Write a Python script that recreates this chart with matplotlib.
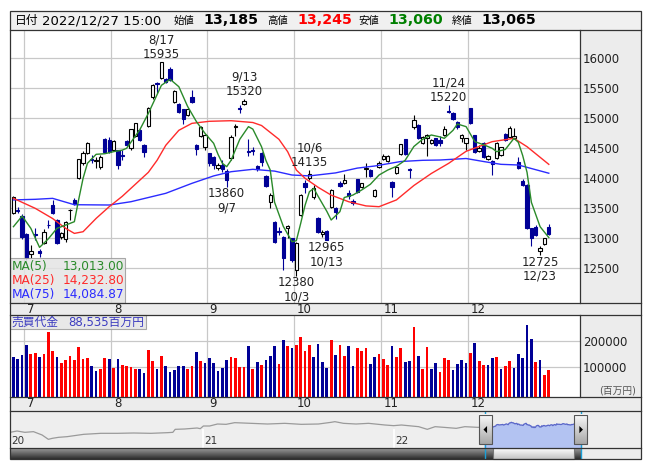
import numpy as np
import matplotlib
matplotlib.use('Agg')
import matplotlib.pyplot as plt
from matplotlib.patches import Rectangle, Polygon
from matplotlib.colors import LinearSegmentedColormap

plt.rcParams['font.family'] = ['DejaVu Sans', 'Noto Sans CJK JP']

# ---------------- data ----------------
month_labels = ['7', '8', '9', '10', '11', '12']
month_starts = [3, 23, 45, 65, 85, 105]   # first trading day index of each month

opens = [13416, 13480, 13371, 13071, 12738, 13080, 12790, 12927, 13230, 13555,
         13305, 13016, 12983, 13465, 13638, 14000, 14249, 14427, 14320, 14290,
         14194, 14649, 14638, 14472, 14472, 14380, 14622, 14500, 14705, 14805,
         14555, 14877, 15350, 15590, 15666, 15650, 15816, 15266, 15238, 15150,
         15055, 15360, 14555, 14705, 14527, 14416, 14360, 14177, 14230, 14127,
         14333, 14860, 15170, 15238, 14450, 14465, 14205, 14416, 14038, 13610,
         13277, 13115, 13027, 13180, 13000, 12471, 13388, 13916, 14000, 13682,
         13332, 13071, 13121, 13527, 13499, 13927, 13916, 13760, 13627, 13982,
         13860, 14160, 14138, 13705, 14183, 14316, 14288, 13944, 14083, 14405,
         14655, 14140, 14850, 14888, 14594, 14666, 14594, 14666, 14640, 14722,
         15120, 15083, 14944, 14666, 14583, 15166, 14722, 14460, 14583, 14316,
         14288, 14333, 14388, 14738, 14683, 14680, 14266, 13960, 13888, 13166,
         13194, 12788, 12905, 13185]
highs = [13705, 13530, 13400, 13090, 12890, 13170, 12830, 13160, 13300, 13640,
         13320, 13110, 13290, 13490, 13680, 14330, 14460, 14600, 14390, 14350,
         14390, 14680, 14690, 14640, 14480, 14470, 14640, 14830, 14930, 14820,
         14570, 15190, 15580, 15610, 15935, 15670, 15850, 15470, 15250, 15160,
         15170, 15470, 14580, 14870, 14740, 14430, 14380, 14260, 14300, 14160,
         14720, 14900, 15220, 15320, 14650, 14530, 14230, 14440, 14060, 13750,
         13290, 13190, 13040, 13220, 13010, 12940, 13740, 13970, 14135, 13890,
         13350, 13140, 13140, 13830, 13520, 13950, 14080, 13800, 13650, 13990,
         13930, 14250, 14150, 13830, 14290, 14400, 14390, 13960, 14210, 14580,
         14660, 14170, 15050, 14900, 14700, 14740, 14660, 14680, 14700, 14870,
         15220, 15100, 14960, 14740, 14680, 15170, 14730, 14560, 14600, 14390,
         14300, 14600, 14530, 14760, 14880, 14844, 14350, 13985, 13900, 13180,
         13220, 12870, 13010, 13245]
lows = [13400, 13420, 12990, 12640, 12670, 12970, 12690, 12900, 13180, 13400,
        12910, 12990, 12940, 13305, 13550, 13990, 14230, 14410, 14250, 14180,
        14150, 14430, 14420, 14450, 14150, 14300, 14540, 14480, 14690, 14620,
        14360, 14860, 15330, 15430, 15650, 15590, 15620, 15250, 15090, 14900,
        15040, 15260, 14390, 14690, 14480, 14210, 14150, 14140, 14110, 13860,
        14310, 14700, 15090, 15230, 14380, 14390, 14130, 14200, 13850, 13510,
        12930, 13055, 12470, 13000, 12600, 12380, 13370, 13750, 13980, 13660,
        13090, 13030, 12965, 13510, 13330, 13850, 13900, 13660, 13560, 13760,
        13840, 14030, 14020, 13690, 14170, 14300, 14270, 13694, 14070, 14390,
        14390, 14010, 14830, 14650, 14580, 14380, 14580, 14540, 14540, 14710,
        15090, 14970, 14830, 14610, 14480, 14910, 14420, 14440, 14340, 14300,
        14060, 14320, 14370, 14620, 14670, 14660, 14150, 13870, 13150, 12871,
        13040, 12725, 12890, 13060]
closes = [13682, 13460, 13016, 12680, 12794, 13060, 12750, 13110, 13215, 13416,
          12927, 13093, 13277, 13475, 13571, 14316, 14427, 14583, 14310, 14300,
          14360, 14444, 14444, 14627, 14221, 14370, 14555, 14816, 14916, 14638,
          14444, 15177, 15555, 15575, 15933, 15610, 15638, 15455, 15110, 14983,
          15150, 15277, 14488, 14850, 14722, 14250, 14222, 14222, 14150, 13972,
          14694, 14880, 15160, 15288, 14440, 14455, 14150, 14277, 13871, 13721,
          12944, 13105, 12666, 13210, 12638, 12927, 13721, 13849, 14072, 13832,
          13110, 13110, 12980, 13805, 13443, 13871, 13971, 13700, 13583, 13777,
          13916, 14170, 14038, 13805, 14261, 14372, 14372, 13860, 14194, 14566,
          14405, 14135, 14972, 14666, 14683, 14722, 14638, 14555, 14590, 14816,
          15105, 14983, 14850, 14722, 14666, 14927, 14444, 14500, 14361, 14372,
          14238, 14583, 14516, 14638, 14844, 14700, 14166, 13888, 13166, 13000,
          13055, 12833, 13000, 13065]

# 売買代金 (百万円)
vols = [136400, 128600, 145500, 184400, 149400, 152000, 136400, 149400, 233700, 161100,
        136400, 114400, 126000, 141600, 126000, 176600, 129900, 133800, 102700, 83200,
        91000, 133800, 129900, 94900, 129900, 106600, 102700, 98800, 91000, 91000,
        75500, 165000, 122100, 91000, 141600, 102700, 79300, 87100, 102700, 102800,
        91100, 102800, 157200, 122200, 114400, 133900, 114400, 83300, 95000, 126100,
        137800, 133900, 98900, 98900, 180600, 91100, 118300, 106700, 126100, 141700,
        180600, 110500, 203900, 180600, 172800, 184500, 215600, 161100, 184500, 137800,
        188400, 118300, 95000, 203900, 145500, 184400, 141600, 180500, 102700, 172700,
        161100, 172700, 110500, 137700, 149400, 129900, 106600, 180500, 137700, 172700,
        118300, 122100, 254400, 141600, 91000, 176600, 91000, 114400, 79300, 133800,
        126000, 87100, 110500, 126000, 114400, 153300, 192200, 122100, 106600, 106600,
        133800, 137700, 91000, 102700, 122100, 94900, 149400, 133800, 262200, 207800,
        118300, 126000, 67700, 88535]
vol_colors = ('bbbbrrbrrr' 'brrrrrrrbb' 'rrbrbrrrrb' 'brrbrbbbbb' 'rrbrbbbbbb'
              'rrrrbrbrbb' 'brbrbrrrrb' 'bbbrbrrbbr' 'rrbbrrrbrr' 'bbrbrrbbrr'
              'rbbbbrbrrb' 'brbrrbbbbb' 'rbrr')

ma5_idx = [0, 2, 4, 6, 8, 10, 12, 14, 15, 16, 17, 19, 21, 23, 25, 26, 29, 31, 34, 36,
           38, 40, 42, 44, 46, 47, 48, 49, 50, 52, 54, 55, 57, 58, 59, 60, 62, 64, 65, 66,
           67, 68, 69, 70, 72, 73, 75, 76, 78, 80, 82, 84, 86, 88, 90, 92, 94, 96, 98, 99,
           101, 102, 104, 106, 108, 110, 111, 113, 115, 116, 117, 118, 119, 121, 123]
ma5_val = [13194, 13371, 13166, 12849, 12990, 13166, 13221, 13277, 13650, 14000,
           14250, 14400, 14410, 14444, 14470, 14500, 14805, 15083, 15550, 15650,
           15527, 15200, 14950, 14750, 14583, 14400, 14250, 14194, 14300, 14650,
           14861, 14820, 14527, 14300, 14138, 13600, 13200, 12944, 12960, 13250,
           13550, 13777, 13832, 13700, 13450, 13305, 13444, 13680, 13721, 13805,
           13900, 14055, 14138, 14200, 14300, 14530, 14650, 14722, 14690, 14666,
           14800, 14905, 14861, 14611, 14560, 14500, 14444, 14480, 14666, 14600,
           14380, 14100, 13600, 13194, 13013.00]
ma25_idx = [0, 5, 9, 12, 14, 16, 19, 22, 25, 28, 31, 33, 35, 38, 41, 45, 50, 55, 57,
            61, 63, 65, 67, 70, 73, 77, 81, 84, 88, 92, 96, 100, 104, 110, 115, 118, 123]
ma25_val = [13666, 13500, 13330, 13166, 13082, 13110, 13332, 13527, 13700, 13900,
            14100, 14300, 14550, 14800, 14916, 14950, 14960, 14930, 14880, 14650,
            14444, 14138, 14000, 13850, 13720, 13610, 13540, 13527, 13640, 13880,
            14080, 14250, 14450, 14611, 14666, 14527, 14232.80]
ma75_idx = [0, 5, 9, 14, 22, 27, 31, 35, 41, 46, 50, 55, 60, 64, 68, 74, 79, 83, 89,
            94, 98, 104, 108, 112, 116, 123]
ma75_val = [13640, 13650, 13666, 13560, 13555, 13610, 13680, 13750, 13916, 14040,
            14110, 14150, 14120, 14055, 14040, 14090, 14170, 14205, 14280, 14300,
            14305, 14330, 14280, 14233, 14222, 14084.87]

peak_idx = [34, 53, 68, 100, 49, 65, 72, 121]
peak_dates = ['8/17', '9/13', '10/6', '11/24', '9/7', '10/3', '10/13', '12/23']
peak_high = [True, True, True, True, False, False, False, False]

# navigator: history before the shown range (trading-day number, price)
nav_days = [0, 9, 19, 30, 41, 49, 54, 62, 73, 94, 116, 137, 158, 180, 201, 208, 211,
            223, 239, 243, 247, 255, 265, 276, 287, 308, 329, 351, 372, 394, 410, 415,
            426, 442, 458, 479, 490, 500, 522, 533, 543, 554, 570, 581, 597, 606]
nav_vals = [9770, 10580, 9770, 10180, 8140, 5490, 6100, 6710, 7120, 8540, 9160, 9160,
            9360, 9160, 9560, 9770, 11600, 11810, 12420, 12010, 13640, 13640, 14860,
            14660, 15680, 15270, 14860, 15270, 14660, 14860, 15880, 16290, 15270, 14860,
            15270, 14250, 13850, 14250, 13230, 11600, 13230, 12830, 12210, 13230, 12830,
            12830]
nav_start = 606.3
year_days = [0, 246, 490]
year_labels = ['20', '21', '22']

# ---------------- layout ----------------
W, H = 653, 470
NAVY = '#000096'
RED = '#ff0000'
GRAY = '#ececec'
GRID = '#c8c8c8'

fig = plt.figure(figsize=(W / 100, H / 100), dpi=100)


def px_axes(x0, y0, x1, y1, **kw):
    return fig.add_axes([x0 / W, 1 - y1 / H, (x1 - x0) / W, (y1 - y0) / H], **kw)


def gradient(axis, x0, x1, y0, y1, c_top, c_bot, z):
    cmap = LinearSegmentedColormap.from_list('g', [c_top, c_bot])
    axis.imshow(np.linspace(0, 1, 32).reshape(-1, 1), cmap=cmap,
                extent=(x0, x1, y1, y0), origin='upper', aspect='auto',
                zorder=z, interpolation='bilinear')


bg = px_axes(0, 0, W, H, zorder=0)
top = px_axes(0, 0, W, H, zorder=10)

# gray areas
for (x0, y0, x1, y1, c) in [(10, 11, 641, 29.5, '#f0f0f0'),
                            (580, 29.5, 641, 302.7, GRAY),
                            (10, 302.7, 641, 315, GRAY),
                            (580, 315, 641, 397.3, GRAY),
                            (10, 397.3, 641, 410.7, GRAY),
                            (582, 448.3, 641, 459.3, GRAY)]:
    bg.add_patch(Rectangle((x0, y0), x1 - x0, y1 - y0, fc=c, ec='none'))

# header
hy = 24
bg.text(14.5, hy, '日付', fontsize=8.5, va='baseline')
bg.text(42, hy, '2022/12/27 15:00', fontsize=9.5, va='baseline')
for x, lab, val, col in [(173.5, '始値', opens[-1], 'black'),
                         (267.5, '高値', highs[-1], '#ff0000'),
                         (358.5, '安値', lows[-1], '#008000'),
                         (451.5, '終値', closes[-1], 'black')]:
    bg.text(x, hy, lab, fontsize=7.5, va='baseline')
    bg.text(x + 29.5, hy, f'{val:,}', fontsize=10.3, fontweight='bold', color=col,
            va='baseline')

bg.text(599, 393.5, '(百万円)', fontsize=7, color='#555555', va='baseline')

# ---- price panel ----
n = len(closes)
x = np.arange(n)
xlim = (-0.79, 130.17)
grid_x = [s - 0.5 for s in month_starts]

ax = px_axes(10, 29.5, 580, 302.7, zorder=2)
ax.set_xlim(*xlim)
ax.set_ylim(11927, 16480)
ax.set_xticks(grid_x)
ax.set_yticks(np.arange(12500, 16001, 500))
ax.grid(True, color=GRID, lw=0.9)
ax.set_axisbelow(True)
ax.yaxis.tick_right()
ax.tick_params(length=0, labelbottom=False, labelright=True, pad=2,
               labelsize=8.5, labelcolor='#222222')
for s in ax.spines.values():
    s.set_visible(False)

bw = 0.76
for i in range(n):
    o, h, l, c = opens[i], highs[i], lows[i], closes[i]
    up = c > o
    col = 'black' if up else NAVY
    ax.vlines(i, l, h, color=col, lw=0.8, zorder=3)
    ax.add_patch(Rectangle((i - bw / 2, min(o, c)), bw, max(abs(c - o), 14),
                           fc='white' if up else NAVY, ec=col, lw=0.8, zorder=4))

ax.plot(ma75_idx, ma75_val, color='#2b2bff', lw=1.0, zorder=5)
ax.plot(ma25_idx, ma25_val, color='#ff2b2b', lw=1.0, zorder=5)
ax.plot(ma5_idx, ma5_val, color='#2a8a2a', lw=1.0, zorder=5)

for i, d, hi in zip(peak_idx, peak_dates, peak_high):
    if hi:
        ax.annotate(f'{d}\n{highs[i]}', (i, highs[i]), xytext=(0, 1),
                    textcoords='offset points', ha='center', va='bottom',
                    fontsize=8.5, color='#222222', linespacing=1.1, zorder=6)
    else:
        ax.annotate(f'{lows[i]}\n{d}', (i, lows[i]), xytext=(0, -0.5),
                    textcoords='offset points', ha='center', va='top',
                    fontsize=8.5, color='#222222', linespacing=1.1, zorder=6)

# ---- volume panel ----
VLO = -19000
vax = px_axes(10, 315, 580, 397.3, zorder=2)
vax.set_xlim(*xlim)
vax.set_ylim(VLO, 301000)
vax.set_xticks(grid_x)
vax.set_yticks([100000, 200000])
vax.grid(True, color=GRID, lw=0.9)
vax.set_axisbelow(True)
vax.yaxis.tick_right()
vax.tick_params(length=0, labelbottom=False, labelright=True, pad=2,
                labelsize=8.5, labelcolor='#222222')
for s in vax.spines.values():
    s.set_visible(False)
vax.bar(x, np.array(vols) - VLO, bottom=VLO, width=0.62,
        color=[RED if c == 'r' else NAVY for c in vol_colors], zorder=3)

# month labels in both bands
for axis in (ax, vax):
    for g, lab in zip(grid_x, month_labels):
        axis.text(g + 0.6, 0, lab, transform=axis.get_xaxis_transform(),
                  ha='left', va='top', fontsize=8.5, color='#222222', clip_on=False)

# ---- navigator ----
nav = px_axes(10, 410.7, 641, 448.3, zorder=2)
nav_xmax = 806
nav.set_xlim(0, nav_xmax)
nav.set_ylim(0, 23000)
nav.set_facecolor('#eeeeee')
nav.set_xticks([])
nav.set_yticks([])
for s in nav.spines.values():
    s.set_visible(False)
sel_days = nav_start + x
nav.vlines(year_days[1:], 0, 12000, color='white', lw=1.2, zorder=1)
nav.plot(nav_days + [sel_days[0]], nav_vals + [closes[0]], color='#9a9a9a', lw=0.9, zorder=2)
nav.fill_between(sel_days, closes, 0, color='#b3c3f2', zorder=2)
nav.plot(sel_days, closes, color='#5a66c8', lw=0.9, zorder=3)
for d, lab in zip(year_days, year_labels):
    nav.text(d + 2, 0.06, lab, transform=nav.get_xaxis_transform(), ha='left',
             va='bottom', fontsize=7.5, color='#333333')

# scrollbar
px_per_day = 631 / nav_xmax
sel_x0 = 10 + nav_start * px_per_day
sel_x1 = 10 + (nav_start + n - 1) * px_per_day
gradient(bg, 10, sel_x0 + 8.5, 448.3, 459.3, '#9c9c9c', '#2e2e2e', 1)
gradient(bg, sel_x1 - 7, sel_x1 + 0.5, 448.3, 459.3, '#9c9c9c', '#2e2e2e', 1)
gradient(bg, sel_x0 + 8.5, sel_x1 - 7, 448.3, 459.3, '#ffffff', '#c4c4c4', 1)
bg.add_patch(Rectangle((sel_x0 + 8.5, 448.3), sel_x1 - sel_x0 - 15.5, 11,
                       fill=False, ec='#777777', lw=0.8, zorder=2))
bg.set_xlim(0, W)
bg.set_ylim(H, 0)
bg.axis('off')

# selection handles
top.vlines([sel_x0, sel_x1], 410.7, 459.3, color='#1aa0d8', lw=1.0, zorder=1)
for cx, d in [(sel_x0 + 0.8, -1), (sel_x1, 1)]:
    gradient(top, cx - 6.5, cx + 6.5, 415, 444.3, '#fafafa', '#a8a8a8', 2)
    top.add_patch(Rectangle((cx - 6.5, 415), 13, 29.3, fill=False, ec='#555555',
                            lw=0.8, zorder=3))
    top.add_patch(Polygon([(cx + 2 * d, 429.6), (cx - 1.6 * d, 426),
                           (cx - 1.6 * d, 433.2)], closed=True, fc='black',
                          ec='none', zorder=4))

# legend boxes
top.add_patch(Rectangle((10, 258), 115, 44.5, fc='#e4e4e4', ec='#9a9a9a', lw=0.8,
                        alpha=0.85, zorder=2))
for row, (lab, val, col) in enumerate([('MA(5)', ma5_val[-1], '#2a8a2a'),
                                       ('MA(25)', ma25_val[-1], '#ff2b2b'),
                                       ('MA(75)', ma75_val[-1], '#2b2bff')]):
    yy = 266.7 + row * 13.7
    top.text(12, yy, lab, color=col, fontsize=8.7, va='center', zorder=3)
    top.text(124, yy, f'{val:,.2f}', color=col, fontsize=8.7, va='center',
             ha='right', zorder=3)

top.add_patch(Rectangle((10, 315), 136, 14, fc='#e4e4e4', ec='#9a9a9a', lw=0.8,
                        alpha=0.85, zorder=2))
top.text(12, 322.2, '売買代金', color='#3c3cc0', fontsize=8.5, va='center', zorder=3)
top.text(68, 322.2, f'{vols[-1]:,}百万円', color='#3c3cc0', fontsize=8.5,
         va='center', zorder=3)

# frame lines
top.add_patch(Rectangle((10, 11), 631, 448.3, fill=False, ec='#333333', lw=0.9, zorder=5))
for yy in [29.5, 302.7, 315, 397.3, 410.7, 448.3]:
    top.plot([10, 641], [yy, yy], color='#333333', lw=0.9, zorder=5)
for y0, y1 in [(29.5, 302.7), (315, 397.3)]:
    top.plot([580, 580], [y0, y1], color='#333333', lw=0.9, zorder=5)

top.set_xlim(0, W)
top.set_ylim(H, 0)
top.axis('off')

fig.savefig('out.png', dpi=100)
